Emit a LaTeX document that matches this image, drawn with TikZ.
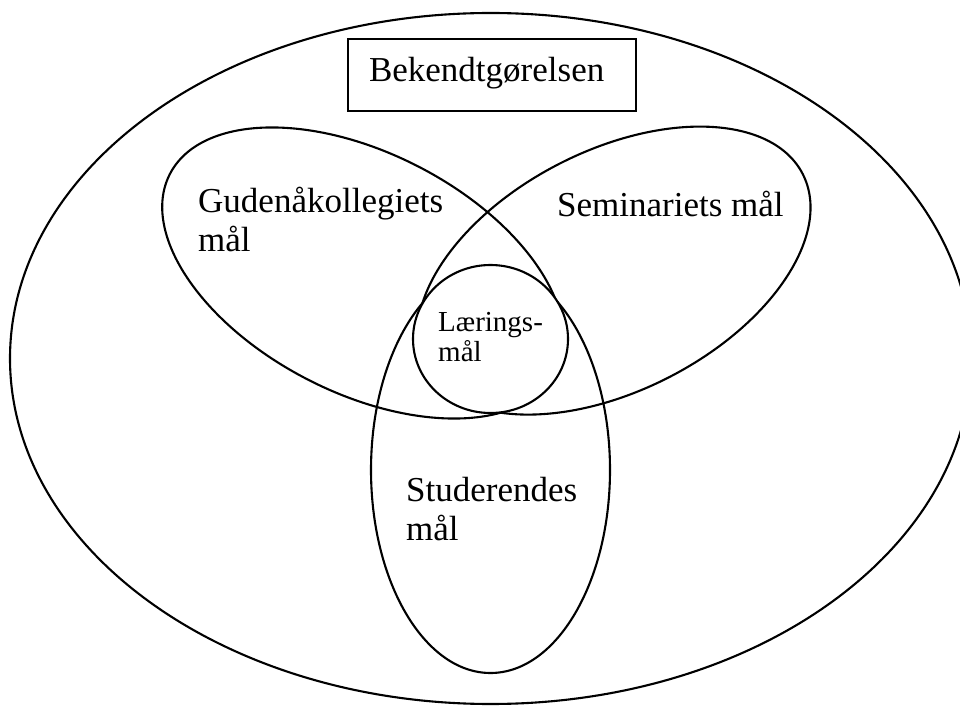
\documentclass[tikz,border=0pt]{standalone}
\usepackage{fontspec}
\setmainfont{Liberation Serif}
\begin{document}
\begin{tikzpicture}[
    x=1pt, y=1pt,
    every node/.style={align=left, inner sep=0pt, font=\fontsize{35}{39}\selectfont},
    goal/.style={line width=2.1pt},
    lawbox/.style={draw, line width=2.1pt, anchor=north west, text width=246pt, inner xsep=21pt, inner ysep=10pt, text height=32pt, text depth=20pt},
    tag/.style={anchor=base west},
    small/.style={font=\fontsize{29}{30}\selectfont}
]
\useasboundingbox (0,0) rectangle (960,707);
% outer ellipse and the law
\draw[goal] (490.7,348.5) ellipse [x radius=480.7, y radius=345.5];
\node[lawbox] (law) at (347,669) {Bekendtgørelsen};
% the three goal ellipses
\draw[goal, rotate around={-27.1:(363,434)}] (363,434) ellipse [x radius=217, y radius=120];
\draw[goal, rotate around={27.1:(614,436.4)}] (614,436.4) ellipse [x radius=212, y radius=120];
\draw[goal] (490.5,237) ellipse [x radius=119.5, y radius=203];
% learning goals on top, hiding the tips
\draw[goal, fill=white] (490.5,368) ellipse [x radius=77.5, y radius=74];
% labels
\node[tag] (gk) at (198,455) {Gudenåkollegiets\\mål};
\node[tag] (sem) at (557,490) {Seminariets mål};
\node[tag] (stud) at (406,167) {Studerendes\\mål};
\node[tag, small] (laer) at (438,345) {Lærings-\\mål};
\end{tikzpicture}
\end{document}
